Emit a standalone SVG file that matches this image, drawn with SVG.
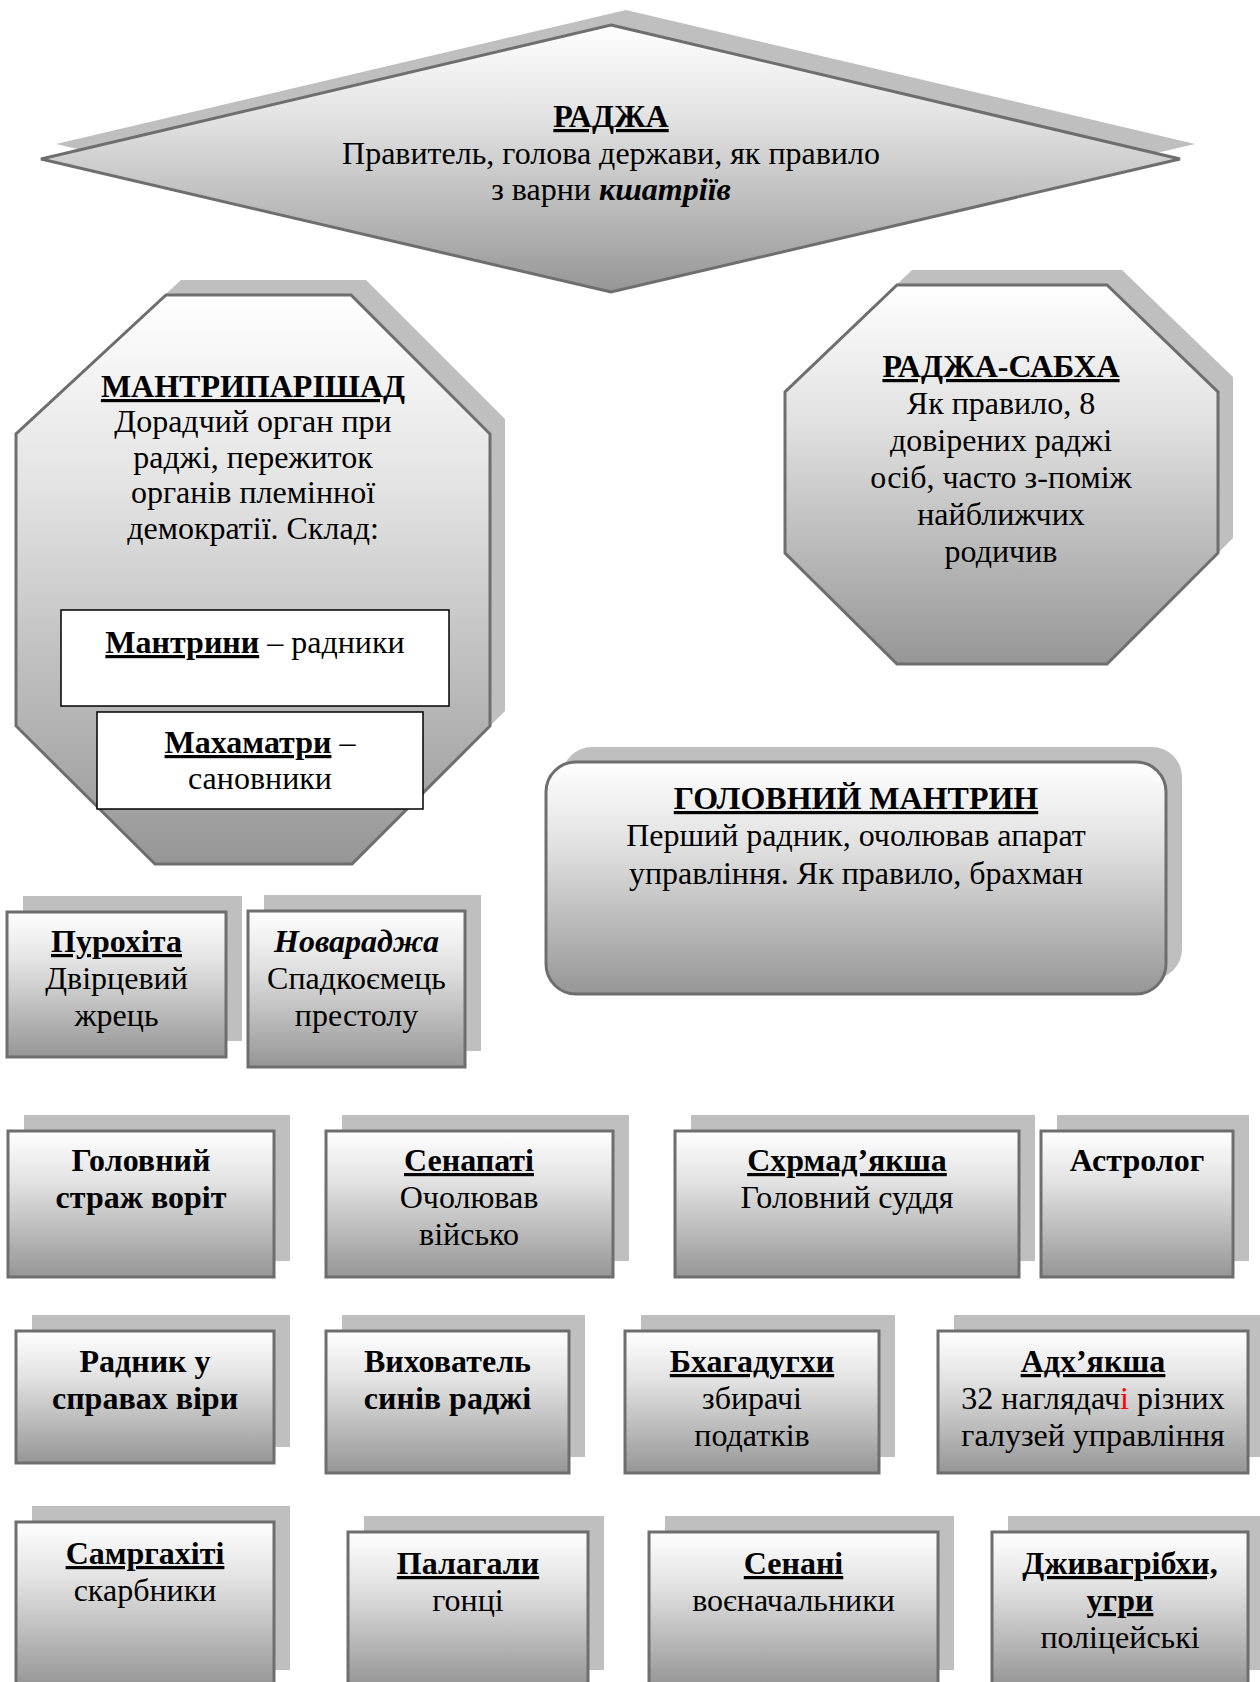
<svg xmlns="http://www.w3.org/2000/svg" width="1260" height="1682" viewBox="0 0 1260 1682">
<defs>
<linearGradient id="g" x1="0" y1="0" x2="0" y2="1">
<stop offset="0" stop-color="#ffffff"/>
<stop offset="0.35" stop-color="#e2e2e2"/>
<stop offset="1" stop-color="#969696"/>
</linearGradient>
<style>
.sh{fill:#bfbfbf}
.bx{fill:url(#g);stroke:#6e6e6e;stroke-width:3}
.wb{fill:#ffffff;stroke:#000000;stroke-width:1.5}
text{font-family:"Liberation Serif","Times New Roman",serif;font-size:32px;text-anchor:middle;fill:#000}
.b{font-weight:bold}
.u{text-decoration:underline}
.bi{font-weight:bold;font-style:italic}
.r{fill:#ff0000}
</style>
</defs>
<rect width="1260" height="1682" fill="#ffffff"/>

<g id="raja">
<polygon class="sh" points="626,10 1195,144 626,277 56,144"/>
<polygon class="bx" points="611,25 1180,159 611,292 41,159"/>
<text x="611" y="127" class="b u">РАДЖА</text>
<text x="611" y="164">Правитель, голова держави, як правило</text>
<text x="611" y="200">з варни <tspan class="bi">кшатріїв</tspan></text>
</g>

<g id="mantriparishad">
<polygon class="sh" points="181,280 366,280 505,419 505,711 367,849 170,849 31,711 31,419"/>
<polygon class="bx" points="166,295 351,295 490,434 490,726 352,864 155,864 16,726 16,434"/>
<text x="253" y="397" class="b u">МАНТРИПАРІШАД</text>
<text x="253" y="432">Дорадчий орган при</text>
<text x="253" y="468">раджі, пережиток</text>
<text x="253" y="503">органів племінної</text>
<text x="253" y="539">демократії. Склад:</text>
<g id="mantryny">
<rect class="wb" x="61" y="610" width="388" height="96"/>
<text x="255" y="653"><tspan class="b u">Мантрини</tspan> – радники</text>
</g>
<g id="makhamatry">
<rect class="wb" x="97" y="712" width="326" height="97"/>
<text x="260" y="753"><tspan class="b u">Махаматри</tspan> –</text>
<text x="260" y="789">сановники</text>
</g>
</g>

<g id="raja-sabha">
<polygon class="sh" points="912,270 1122,270 1233,377 1233,538 1122,649 912,649 800,538 800,377"/>
<polygon class="bx" points="897,285 1107,285 1218,392 1218,553 1107,664 897,664 785,553 785,392"/>
<text x="1001" y="377" class="b u">РАДЖА-САБХА</text>
<text x="1001" y="414">Як правило, 8</text>
<text x="1001" y="451">довірених раджі</text>
<text x="1001" y="488">осіб, часто з-поміж</text>
<text x="1001" y="525">найближчих</text>
<text x="1001" y="562">родичив</text>
</g>

<g id="head-mantryn">
<rect class="sh" x="562" y="747" width="620" height="232" rx="30"/>
<rect class="bx" x="546" y="762" width="620" height="232" rx="30"/>
<text x="856" y="809" class="b u">ГОЛОВНИЙ МАНТРИН</text>
<text x="856" y="846">Перший радник, очолював апарат</text>
<text x="856" y="884">управління. Як правило, брахман</text>
</g>

<g id="purokhita">
<rect class="sh" x="23" y="896" width="219" height="145"/>
<rect class="bx" x="7" y="912" width="219" height="145"/>
<text x="116.5" y="952" class="b u">Пурохіта</text>
<text x="116.5" y="989">Двірцевий</text>
<text x="116.5" y="1026">жрець</text>
</g>

<g id="novaradzha">
<rect class="sh" x="264" y="895" width="217" height="156"/>
<rect class="bx" x="248" y="911" width="217" height="156"/>
<text x="356.5" y="952" class="bi">Новараджа</text>
<text x="356.5" y="989">Спадкоємець</text>
<text x="356.5" y="1026">престолу</text>
</g>

<g id="gate-guard">
<rect class="sh" x="24" y="1115" width="266" height="146"/>
<rect class="bx" x="8" y="1131" width="266" height="146"/>
<text x="141" y="1171" class="b">Головний</text>
<text x="141" y="1208" class="b">страж воріт</text>
</g>

<g id="senapati">
<rect class="sh" x="342" y="1115" width="287" height="146"/>
<rect class="bx" x="326" y="1131" width="287" height="146"/>
<text x="469" y="1171" class="b u">Сенапаті</text>
<text x="469" y="1208">Очолював</text>
<text x="469" y="1245">військо</text>
</g>

<g id="skhrmadyaksha">
<rect class="sh" x="691" y="1115" width="344" height="146"/>
<rect class="bx" x="675" y="1131" width="344" height="146"/>
<text x="847" y="1171" class="b u">Схрмад’якша</text>
<text x="847" y="1208">Головний суддя</text>
</g>

<g id="astrolog">
<rect class="sh" x="1057" y="1115" width="192" height="146"/>
<rect class="bx" x="1041" y="1131" width="192" height="146"/>
<text x="1137" y="1171" class="b">Астролог</text>
</g>

<g id="faith-advisor">
<rect class="sh" x="32" y="1315" width="258" height="132"/>
<rect class="bx" x="16" y="1331" width="258" height="132"/>
<text x="145" y="1372" class="b">Радник у</text>
<text x="145" y="1409" class="b">справах віри</text>
</g>

<g id="tutor">
<rect class="sh" x="342" y="1315" width="243" height="142"/>
<rect class="bx" x="326" y="1331" width="243" height="142"/>
<text x="447.5" y="1372" class="b">Вихователь</text>
<text x="447.5" y="1409" class="b">синів раджі</text>
</g>

<g id="bkhagadugkhy">
<rect class="sh" x="641" y="1315" width="254" height="142"/>
<rect class="bx" x="625" y="1331" width="254" height="142"/>
<text x="752" y="1372" class="b u">Бхагадугхи</text>
<text x="752" y="1409">збирачі</text>
<text x="752" y="1446">податків</text>
</g>

<g id="adkhyaksha">
<rect class="sh" x="954" y="1315" width="310" height="142"/>
<rect class="bx" x="938" y="1331" width="310" height="142"/>
<text x="1093" y="1372" class="b u">Адх’якша</text>
<text x="1093" y="1409">32 наглядач<tspan class="r">і</tspan> різних</text>
<text x="1093" y="1446">галузей управління</text>
</g>

<g id="samrgakhiti">
<rect class="sh" x="32" y="1506" width="258" height="164"/>
<rect class="bx" x="16" y="1522" width="258" height="164"/>
<text x="145" y="1564" class="b u">Самргахіті</text>
<text x="145" y="1601">скарбники</text>
</g>

<g id="palagaly">
<rect class="sh" x="364" y="1516" width="240" height="154"/>
<rect class="bx" x="348" y="1532" width="240" height="154"/>
<text x="468" y="1574" class="b u">Палагали</text>
<text x="468" y="1611">гонці</text>
</g>

<g id="senani">
<rect class="sh" x="665" y="1516" width="289" height="154"/>
<rect class="bx" x="649" y="1532" width="289" height="154"/>
<text x="793.5" y="1574" class="b u">Сенані</text>
<text x="793.5" y="1611">воєначальники</text>
</g>

<g id="dzhyvagribkhy">
<rect class="sh" x="1008" y="1516" width="256" height="154"/>
<rect class="bx" x="992" y="1532" width="256" height="154"/>
<text x="1120" y="1574" class="b u">Дживагрібхи,</text>
<text x="1120" y="1611" class="b u">угри</text>
<text x="1120" y="1648">поліцейські</text>
</g>

<g id="connectors"></g>
</svg>
